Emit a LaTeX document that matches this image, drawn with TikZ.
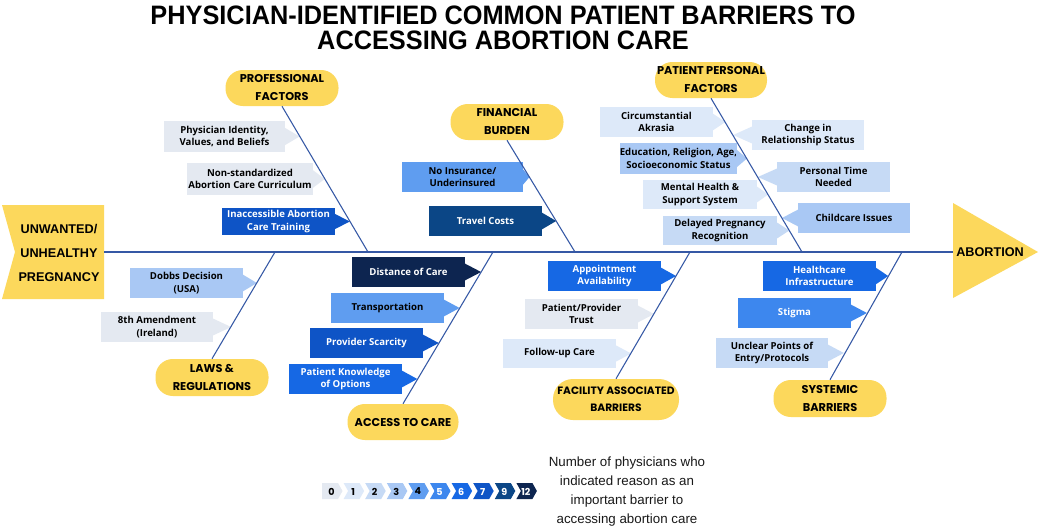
\documentclass[tikz,border=0pt]{standalone}
\usepackage{fontspec}
\setmainfont{Liberation Sans}
\newfontfamily\boxfont{Open Sans}
\newfontfamily\pillfont{Poppins}
\usetikzlibrary{calc}
\definecolor{yel}{HTML}{FCD85C}
\definecolor{spinec}{HTML}{3558A5}
\definecolor{c0}{HTML}{E4E9F1}
\definecolor{c1}{HTML}{DDE9F9}
\definecolor{c2}{HTML}{C6DAF5}
\definecolor{c3}{HTML}{A9C8F4}
\definecolor{c4}{HTML}{5F9DF0}
\definecolor{c5}{HTML}{3D87EE}
\definecolor{c6}{HTML}{1668E4}
\definecolor{c7}{HTML}{0E54C6}
\definecolor{c9}{HTML}{0B4686}
\definecolor{c12}{HTML}{0D2550}
\colorlet{t0}{black}\colorlet{t1}{black}\colorlet{t2}{black}\colorlet{t3}{black}\colorlet{t4}{black}
\colorlet{t5}{white}\colorlet{t6}{white}\colorlet{t7}{white}\colorlet{t9}{white}\colorlet{t12}{white}
\tikzset{
  pill/.style={fill=yel, rounded corners=13pt, align=center, inner sep=0pt,
    font=\pillfont\bfseries\fontsize{8.5}{13.5}\selectfont, minimum width=113*0.75pt, minimum height=36*0.75pt},
  tag/.style={inner sep=0pt, align=center, font=\boxfont\bfseries\fontsize{7.2}{9.5}\selectfont},
  bone/.style={draw=spinec, line width=0.8pt},
  headtxt/.style={font=\bfseries\fontsize{9.5}{18}\selectfont, align=center, inner sep=0pt},
  legnum/.style={font=\pillfont\bfseries\fontsize{7.2}{8}\selectfont, inner sep=0pt}
}
\newcommand\tagbox[9]{%
  \node[tag, fill=c#2, text=t#2, minimum width=#5*0.75pt, minimum height=#6*0.75pt] (#1) at (#3,#4) {#8};
  \fill[c#2] ($(#1.north #9)!0.2!(#1.south #9)!1pt!(#1.center)$) -- (#7,#4) -- ($(#1.north #9)!0.8!(#1.south #9)!1pt!(#1.center)$) -- cycle;
}
\begin{document}
\begin{tikzpicture}[x=0.75pt,y=-0.75pt]
\useasboundingbox (0,0) rectangle (1040,529);
\fill[white] (0,0) rectangle (1040,529);

% title
\node[font=\bfseries\fontsize{20}{19}\selectfont, align=center, xscale=0.95, inner sep=0pt] (title) at (503,28)
  {PHYSICIAN-IDENTIFIED COMMON PATIENT BARRIERS TO\\ACCESSING ABORTION CARE};

% heads
\fill[yel] (2,205) -- (104,205) -- (104,299) -- (2,299) -- (15,252) -- cycle;
\node[headtxt] (uhp) at (59,253) {UNWANTED/\\UNHEALTHY\\PREGNANCY};
\coordinate (sp0) at (104,252);
\fill[yel] (953,203) -- (1038,252) -- (953,298) -- cycle;
\coordinate (tri) at (953,252);
\node[headtxt, anchor=west] (abr) at (956,252) {ABORTION};
\draw[bone, line width=1pt] (sp0) -- (tri);

% category pills
\node[pill] (pf) at (282,88) {PROFESSIONAL\\FACTORS};
\node[pill] (fb) at (507,122) {FINANCIAL\\BURDEN};
\node[pill, minimum width=112*0.75pt] (pp) at (711,80) {PATIENT PERSONAL\\FACTORS};
\node[pill, minimum height=37*0.75pt] (lr) at (212,377.5) {LAWS \&\\REGULATIONS};
\node[pill, minimum width=111*0.75pt] (ac) at (403,422) {ACCESS TO CARE};
\node[pill, minimum width=126*0.75pt, minimum height=41*0.75pt, rounded corners=15pt,
  font=\pillfont\bfseries\fontsize{8}{12.5}\selectfont] (fa) at (616,399.5) {FACILITY ASSOCIATED\\BARRIERS};
\node[pill, minimum height=37*0.75pt] (sb) at (830,398.5) {SYSTEMIC\\BARRIERS};

\coordinate (pfS) at (368,252);
\coordinate (fbS) at (575,252);
\coordinate (ppS) at (802,252);
\coordinate (lrS) at (275,252);
\coordinate (acS) at (493,252);
\coordinate (faS) at (690,252);
\coordinate (sbS) at (902,252);

% boxes: name, level, cx, cy, w, h, tipx, text, side
\tagbox{phys}{0}{224.5}{136.5}{121}{31}{299.5}{Physician Identity,\\Values, and Beliefs}{east}
\tagbox{nonstd}{0}{250}{179}{126}{32}{324.7}{Non-standardized\\Abortion Care Curriculum}{east}
\tagbox{inacc}{7}{278.5}{221.5}{113}{27}{349.9}{Inaccessible Abortion\\Care Training}{east}
\tagbox{noins}{4}{462.5}{177}{121}{30}{529.5}{No Insurance/\\Underinsured}{east}
\tagbox{travel}{9}{485.5}{221}{113}{30}{556.2}{Travel Costs}{east}
\tagbox{circ}{1}{656.5}{122}{113}{30}{725.5}{Circumstantial\\Akrasia}{east}
\tagbox{edu}{3}{678.5}{158.5}{117}{31}{747}{Education, Religion, Age,\\Socioeconomic Status}{east}
\tagbox{mental}{1}{700}{194.5}{114}{29}{768.2}{Mental Health \&\\Support System}{east}
\tagbox{delayed}{2}{720}{230.5}{114}{29}{789.3}{Delayed Pregnancy\\Recognition}{east}
\tagbox{change}{1}{808}{135}{112}{30}{733.2}{Change in\\Relationship Status}{west}
\tagbox{ptime}{2}{833.5}{177}{113}{30}{757.9}{Personal Time\\Needed}{west}
\tagbox{child}{3}{854}{218}{112}{30}{782}{Childcare Issues}{west}
\tagbox{dobbs}{3}{186.5}{283}{113}{30}{256.9}{Dobbs Decision\\(USA)}{east}
\tagbox{eighth}{0}{157}{327}{112}{30}{231.1}{8th Amendment\\(Ireland)}{east}
\tagbox{dist}{12}{408.5}{272}{113}{30}{481.1}{Distance of Care}{east}
\tagbox{transp}{4}{387.5}{308}{113}{30}{459.6}{Transportation}{east}
\tagbox{provsc}{7}{366.5}{343}{113}{30}{438.8}{Provider Scarcity}{east}
\tagbox{pknow}{6}{345.5}{379}{113}{30}{417.3}{Patient Knowledge\\of Options}{east}
\tagbox{appt}{6}{604.5}{276}{113}{30}{676.1}{Appointment\\Availability}{east}
\tagbox{trust}{0}{581.5}{314}{113}{30}{654.1}{Patient/Provider\\Trust}{east}
\tagbox{follow}{1}{559.5}{353.5}{113}{29}{631.2}{Follow-up Care}{east}
\tagbox{health}{6}{819.5}{276}{113}{30}{888.2}{Healthcare\\Infrastructure}{east}
\tagbox{stigma}{5}{794.5}{313}{113}{30}{866.9}{Stigma}{east}
\tagbox{unclear}{2}{772}{353}{112}{30}{843.8}{Unclear Points of\\Entry/Protocols}{east}

% bones
\draw[bone] (pf.south) -- (pfS);
\draw[bone] (fb.south) -- (fbS);
\draw[bone] (pp.south) -- (ppS);
\draw[bone] (lr.north) -- (lrS);
\draw[bone] (ac.north) -- (acS);
\draw[bone] (fa.north) -- (faS);
\draw[bone] (sb.north) -- (sbS);

% legend
\foreach \lv [count=\i from 0] in {0,1,2,3,4,5,6,7,9,12}{
  \pgfmathsetmacro\xx{322+\i*21.6}
  \ifnum\i=0
    \fill[c\lv] (\xx,483) -- (\xx+16,483) -- (\xx+20.5,491) -- (\xx+16,499) -- (\xx,499) -- cycle;
  \else
    \fill[c\lv] (\xx,483) -- (\xx+16,483) -- (\xx+20.5,491) -- (\xx+16,499) -- (\xx,499) -- (\xx+4.5,491) -- cycle;
  \fi
  \node[legnum, text=t\lv] (lg\i) at (\xx+9.5,491.5) {\lv};
}
\node[font=\fontsize{10}{14.25}\selectfont, align=center, text=black!90, inner sep=0pt] (legtxt) at (627,491.5)
  {Number of physicians who\\indicated reason as an\\important barrier to\\accessing abortion care};
\end{tikzpicture}
\end{document}
